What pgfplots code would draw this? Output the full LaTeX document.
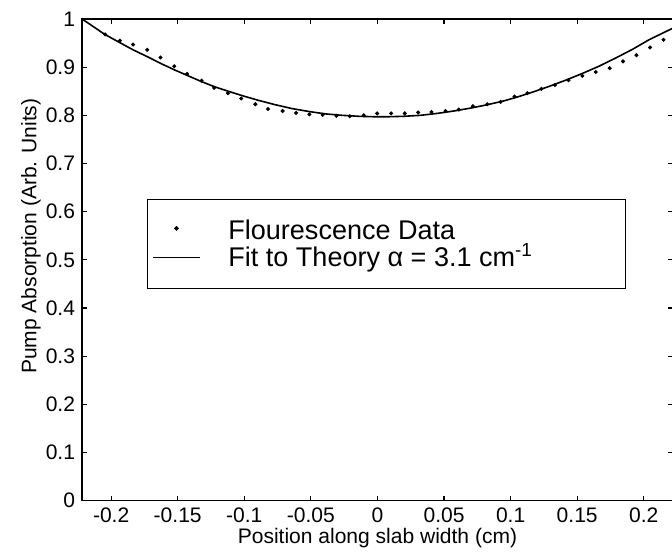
\documentclass[border=0pt]{standalone}
\usepackage{fontspec}
\setmainfont{Liberation Sans}
\usepackage{pgfplots}
\pgfplotsset{compat=1.18}
\pgfplotsset{
  dotlegend/.style={legend image code/.code={
      \path (0pt,-3pt) (23pt,6pt);
      \draw[##1] plot coordinates {(11.5pt,1.5pt)};}},
  linelegend/.style={legend image code/.code={
      \path (0pt,-3pt) (23pt,6pt);
      \draw[##1] (0pt,-0.5pt) -- (23pt,-0.5pt);}},
}

\begin{document}
\begin{tikzpicture}
  \begin{axis}[
      width=295pt, height=240.5pt, scale only axis,
      xmin=-0.2218, xmax=0.2218, ymin=0, ymax=1,
      xtick={-0.2,-0.15,-0.1,-0.05,0,0.05,0.1,0.15,0.2},
      xticklabels={-0.2,-0.15,-0.1,-0.05,0,0.05,0.1,0.15,0.2},
      ytick={0,0.1,0.2,0.3,0.4,0.5,0.6,0.7,0.8,0.9,1},
      yticklabels={0,0.1,0.2,0.3,0.4,0.5,0.6,0.7,0.8,0.9,1},
      tick label style={font=\fontsize{10.5}{12}\selectfont},
      label style={font=\fontsize{10.5}{12}\selectfont},
      axis line style={line width=0.7pt},
      tick style={line width=0.6pt, black},
      major tick length=2.5pt,
      tick align=inside,
      xlabel={Position along slab width (cm)},
      ylabel={Pump Absorption (Arb. Units)},
      xlabel style={at={(axis description cs:0.5,0)}, anchor=base, yshift=-21.5pt},
      ylabel style={at={(axis description cs:-0.0864,0.549)}, anchor=center},
      legend style={
        at={(axis description cs:0.110,0.626)}, anchor=north west,
        draw=black, line width=0.6pt,
        inner xsep=2.5pt, inner ysep=9.5pt,
        font=\fontsize{13.5}{15}\selectfont,
        nodes={inner sep=0pt},
        row sep=0.3pt,
        /tikz/every odd column/.append style={column sep=14pt},
      },
      legend cell align=left,
    ]
    % fluorescence data
    \addplot[only marks, mark=*, mark size=0.8pt, black, dotlegend]
      coordinates {
        (-0.2045,0.968) (-0.1935,0.955) (-0.1835,0.947) (-0.1729,0.936)
        (-0.1629,0.920) (-0.1526,0.902) (-0.1429,0.886) (-0.1321,0.872)
        (-0.1226,0.857) (-0.1123,0.846) (-0.1023,0.835) (-0.0917,0.823)
        (-0.0822,0.813) (-0.0712,0.809) (-0.0611,0.805) (-0.0511,0.802)
        (-0.0411,0.801) (-0.0308,0.799) (-0.0208,0.798) (-0.0103,0.800)
        (-0.0002,0.804) (0.0103,0.804) (0.0205,0.804) (0.0306,0.806)
        (0.0406,0.807) (0.0511,0.809) (0.0611,0.812) (0.0717,0.819)
        (0.0825,0.823) (0.0925,0.828) (0.1030,0.839) (0.1126,0.846)
        (0.1231,0.855) (0.1333,0.863) (0.1434,0.873) (0.1539,0.882)
        (0.1639,0.890) (0.1744,0.898) (0.1844,0.912) (0.1945,0.925)
        (0.2047,0.941) (0.2148,0.957)
      };
    \addlegendentry{\makebox[196pt][l]{\rule[-1.2pt]{0pt}{10.7pt}Flourescence Data}}
    % fit
    \addplot[black, line width=0.8pt, linelegend]
      coordinates {
        (-0.2218,1.000) (-0.2047,0.968) (-0.1935,0.951) (-0.1835,0.936)
        (-0.1722,0.921) (-0.1622,0.907) (-0.1521,0.894) (-0.1421,0.882)
        (-0.1321,0.870) (-0.1220,0.859) (-0.1120,0.850) (-0.1017,0.841)
        (-0.0892,0.831) (-0.0767,0.822) (-0.0641,0.814) (-0.0516,0.808)
        (-0.0391,0.803) (-0.0265,0.800) (-0.0141,0.798) (-0.0015,0.797)
        (0.0073,0.797) (0.0198,0.798) (0.0323,0.800) (0.0449,0.804)
        (0.0574,0.809) (0.0699,0.815) (0.0825,0.822) (0.0950,0.830)
        (0.1050,0.838) (0.1163,0.848) (0.1288,0.860) (0.1414,0.873)
        (0.1539,0.887) (0.1664,0.902) (0.1789,0.919) (0.1915,0.937)
        (0.2040,0.957) (0.2218,0.981)
      };
    \addlegendentry{\makebox[196pt][l]{\rule[-4pt]{0pt}{13.5pt}Fit to Theory α = 3.1 cm\textsuperscript{-1}}}
  \end{axis}
  \pgfresetboundingbox
  \useasboundingbox ([xshift=-41pt,yshift=-25.5pt]current axis.south west)
    rectangle ([xshift=-0.4pt,yshift=9.5pt]current axis.north east);
\end{tikzpicture}
\end{document}
